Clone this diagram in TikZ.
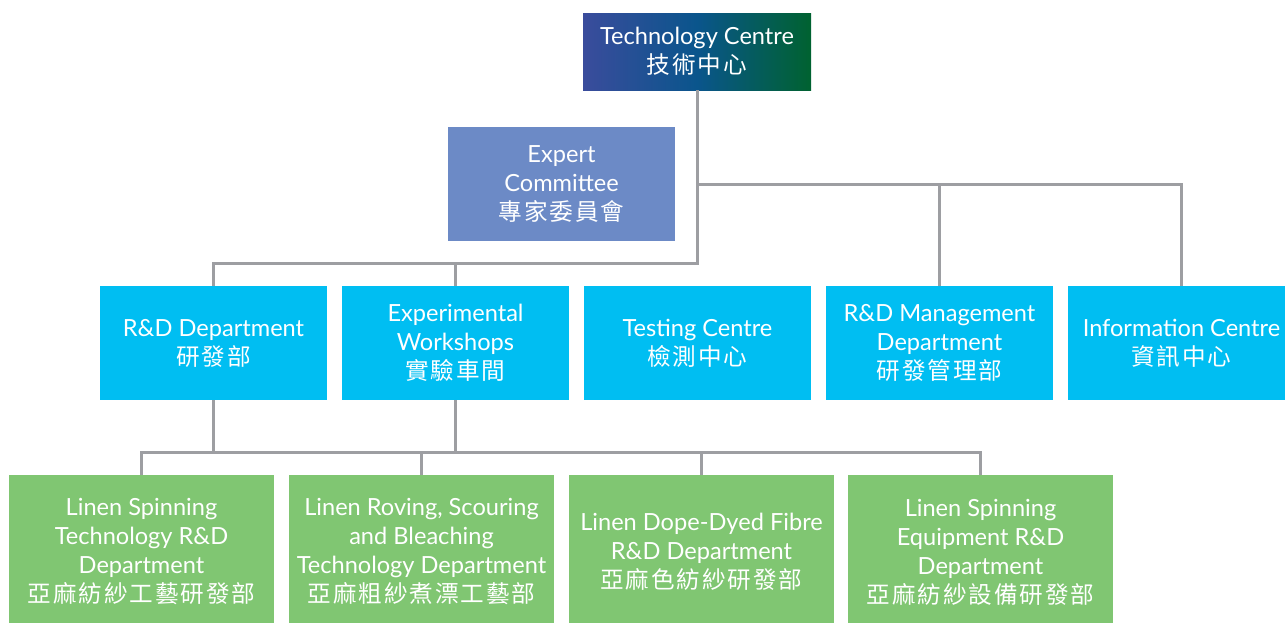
\documentclass[tikz,border=0pt]{standalone}
\usepackage{fontspec}
\setmainfont{Lato}
\newfontfamily\cjk[LetterSpace=8]{Noto Sans CJK TC}
\definecolor{navy}{RGB}{58,76,156}
\definecolor{sea}{RGB}{10,85,140}
\definecolor{forest}{RGB}{0,98,48}
\definecolor{lilac}{RGB}{108,138,198}
\definecolor{sky}{RGB}{0,190,242}
\definecolor{leaf}{RGB}{128,198,114}
\definecolor{wire}{RGB}{157,158,162}

\tikzset{
  unit/.style={draw=none,text=white,align=center,inner sep=0pt,
    font=\fontsize{11.8}{14.5}\selectfont},
  head/.style={unit,minimum width=114pt,minimum height=38.5pt,
    left color=navy,right color=forest,middle color=sea},
  board/.style={unit,fill=lilac,minimum width=113.5pt,minimum height=57pt},
  dept/.style={unit,fill=sky,minimum width=113.5pt,minimum height=57pt},
  lab/.style={unit,fill=leaf,minimum width=132.5pt,minimum height=77pt},
  link/.style={draw=wire,line width=1.5pt}
}

\begin{document}
\begin{tikzpicture}[x=0.5pt,y=-0.5pt]
        \useasboundingbox (0,0) rectangle (1285,622);

        % top
        \node[head] (tc) at (697,51.5) {Technology Centre\\{\cjk 技術中心}};
        \node[board] (expert) at (561.5,184) {Expert\\Committee\\{\cjk 專家委員會}};

        % departments
        \node[dept] (rd) at (213.5,343) {R\&D Department\\{\cjk 研發部}};
        \node[dept] (exp) at (455.5,343) {Experimental\\Workshops\\{\cjk 實驗車間}};
        \node[dept] (test) at (697.5,343) {Testing Centre\\{\cjk 檢測中心}};
        \node[dept] (rdm) at (939.5,343) {R\&D Management\\Department\\{\cjk 研發管理部}};
        \node[dept] (info) at (1181.5,343) {Information Centre\\{\cjk 資訊中心}};

        % sub departments
        \node[lab] (spin) at (141.5,552) {Linen Spinning\\Technology R\&D\\Department\\{\cjk 亞麻紡紗工藝研發部}};
        \node[lab] (roving) at (421.5,552) {Linen Roving, Scouring\\and Bleaching\\Technology Department\\{\cjk 亞麻粗紗煮漂工藝部}};
        \node[lab] (dope) at (701.5,552) {Linen Dope-Dyed Fibre\\R\&D Department\\{\cjk 亞麻色紡紗研發部}};
        \node[lab] (equip) at (980.5,552) {Linen Spinning\\Equipment R\&D\\Department\\{\cjk 亞麻紡紗設備研發部}};

        % bus lines
        \coordinate (mid) at (0,184);
        \coordinate (top) at (0,263);
        \coordinate (bot) at (0,452);

        \draw[link] (tc.south) -- (tc.south |- top) -| (rd.north);
        \draw[link] (exp.north) -- (exp.north |- top);
        \draw[link] (tc.south |- mid) -| (info.north);
        \draw[link] (rdm.north) -- (rdm.north |- mid);

        \draw[link] (rd.south) -- (rd.south |- bot);
        \draw[link] (exp.south) -- (exp.south |- bot);
        \draw[link] (spin.north) |- (equip.north |- bot) -- (equip.north);
        \draw[link] (roving.north) -- (roving.north |- bot);
        \draw[link] (dope.north) -- (dope.north |- bot);
    \end{tikzpicture}
\end{document}
